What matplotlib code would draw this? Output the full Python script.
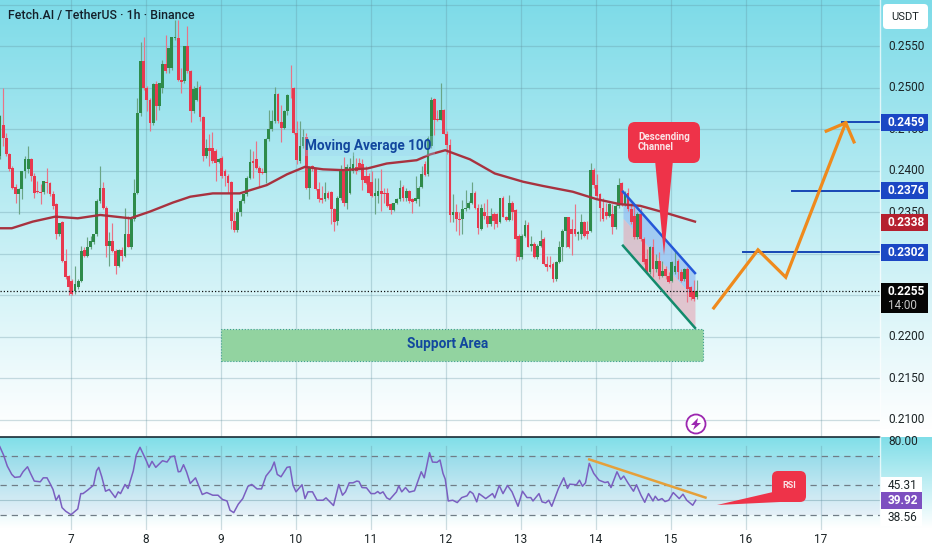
# ------------------------- Libraries -------------------------
import numpy as np
import matplotlib
matplotlib.use('Agg')
import matplotlib.pyplot as plt
from matplotlib.patches import Circle, FancyBboxPatch, Polygon, Rectangle

plt.rcParams['font.family'] = ['Roboto', 'DejaVu Sans']

# ------------------------- Data -------------------------
# FET/USDT hourly candles, prices in 1e-4 USDT
first_candle_day = 6.053
opens = [
    2418,2456,2440,2420,2404,2381,2372,2378,2400,2402, 2414,2394,2376,2375,2375,2387,2386,2372,2360,2324,
    2338,2292,2274,2268,2256,2260,2267,2305,2298,2308, 2314,2324,2364,2380,2356,2310,2316,2304,2286,2305,
    2297,2324,2309,2342,2374,2470,2532,2500,2486,2458, 2505,2478,2500,2529,2524,2524,2560,2560,2510,2508,
    2550,2520,2472,2486,2501,2465,2418,2428,2428,2424, 2411,2416,2400,2394,2387,2340,2329,2351,2364,2372,
    2392,2412,2414,2404,2399,2398,2438,2451,2460,2493, 2459,2452,2472,2492,2500,2446,2412,2430,2441,2380,
    2406,2403,2378,2367,2366,2374,2375,2354,2340,2367, 2402,2361,2373,2400,2405,2410,2408,2394,2394,2387,
    2370,2370,2376,2374,2373,2360,2353,2361,2366,2381, 2367,2376,2366,2364,2366,2381,2409,2396,2430,2487,
    2463,2462,2474,2445,2431,2347,2350,2342,2342,2354, 2356,2362,2374,2356,2330,2350,2346,2336,2348,2348,
    2338,2368,2345,2341,2362,2353,2322,2296,2322,2335, 2310,2312,2296,2310,2318,2288,2287,2288,2270,2290,
    2308,2328,2344,2330,2330,2324,2324,2338,2328,2328, 2401,2383,2372,2356,2350,2346,2348,2332,2358,2385,
    2360,2374,2354,2346,2320,2348,2318,2294,2278,2308, 2282,2292,2274,2282,2274,2268,2278,2292,2278,2270,
    2282,2260,2256,2248]
closes = [
    2466,2440,2420,2402,2380,2372,2378,2400,2414,2414, 2394,2374,2375,2374,2388,2385,2372,2358,2324,2337,
    2292,2272,2260,2252,2264,2268,2304,2298,2308,2316, 2324,2364,2380,2356,2310,2316,2304,2286,2305,2297,
    2324,2309,2342,2374,2470,2532,2500,2486,2458,2505, 2478,2506,2529,2520,2548,2561,2561,2510,2507,2550,
    2520,2472,2499,2500,2465,2418,2428,2424,2412,2410, 2415,2394,2394,2386,2340,2329,2351,2364,2372,2392,
    2411,2410,2404,2398,2398,2438,2451,2460,2493,2460, 2452,2472,2492,2491,2446,2413,2430,2441,2380,2404,
    2402,2378,2366,2365,2373,2368,2354,2338,2367,2402, 2361,2405,2405,2409,2400,2404,2389,2386,2374,2370,
    2374,2376,2372,2372,2358,2353,2361,2366,2380,2367, 2376,2364,2363,2367,2380,2396,2395,2440,2486,2462,
    2461,2474,2445,2431,2347,2350,2342,2341,2354,2356, 2362,2373,2356,2331,2355,2346,2336,2346,2340,2336,
    2367,2345,2341,2362,2351,2318,2296,2322,2335,2309, 2312,2296,2310,2316,2288,2284,2284,2270,2290,2308,
    2328,2344,2308,2324,2324,2326,2338,2322,2324,2401, 2383,2370,2356,2342,2346,2360,2332,2358,2383,2360,
    2374,2354,2338,2320,2348,2318,2290,2278,2308,2282, 2292,2274,2280,2274,2266,2290,2286,2278,2268,2282,
    2258,2248,2246,2256]
highs = [
    2468,2500,2446,2422,2406,2384,2380,2400,2418,2430, 2416,2398,2388,2384,2388,2404,2387,2376,2362,2337,
    2340,2306,2275,2270,2286,2270,2310,2308,2320,2322, 2324,2366,2406,2387,2358,2326,2337,2306,2306,2308,
    2355,2346,2344,2390,2488,2556,2561,2502,2488,2506, 2508,2506,2534,2564,2548,2561,2582,2582,2524,2550,
    2575,2522,2502,2508,2503,2466,2438,2444,2447,2426, 2416,2418,2402,2396,2388,2350,2356,2366,2374,2394,
    2426,2424,2436,2406,2404,2440,2474,2474,2501,2494, 2480,2474,2493,2528,2501,2460,2460,2450,2446,2406,
    2407,2404,2387,2382,2387,2376,2376,2356,2370,2407, 2417,2408,2416,2423,2416,2416,2414,2406,2398,2400,
    2392,2392,2402,2380,2380,2362,2362,2368,2389,2383, 2380,2377,2368,2394,2382,2406,2412,2442,2489,2488,
    2474,2506,2475,2448,2438,2372,2360,2350,2365,2377, 2364,2387,2376,2360,2360,2362,2366,2356,2350,2349,
    2368,2370,2346,2371,2364,2354,2324,2324,2341,2338, 2322,2314,2312,2329,2320,2298,2298,2290,2292,2316,
    2330,2345,2345,2342,2360,2328,2348,2340,2340,2410, 2403,2396,2374,2368,2362,2362,2360,2360,2391,2387,
    2376,2379,2362,2358,2350,2356,2320,2306,2310,2318, 2300,2302,2292,2286,2278,2292,2304,2294,2282,2283,
    2284,2262,2269,2269]
lows = [
    2414,2430,2418,2400,2378,2362,2348,2366,2392,2398, 2388,2368,2374,2360,2372,2374,2370,2354,2318,2322,
    2290,2270,2250,2250,2252,2258,2266,2296,2296,2306, 2312,2322,2362,2354,2296,2286,2302,2276,2284,2292,
    2296,2308,2306,2340,2372,2466,2498,2472,2448,2456, 2462,2474,2494,2518,2518,2522,2558,2508,2494,2506,
    2518,2459,2470,2484,2460,2412,2416,2406,2410,2388, 2410,2392,2382,2374,2330,2326,2326,2346,2362,2370,
    2390,2392,2402,2382,2396,2386,2436,2448,2458,2458, 2435,2450,2468,2488,2444,2408,2410,2428,2378,2366,
    2400,2377,2363,2362,2364,2366,2336,2328,2335,2365, 2358,2354,2372,2398,2396,2402,2377,2384,2373,2369,
    2348,2362,2352,2362,2357,2348,2352,2360,2364,2364, 2364,2362,2349,2362,2358,2380,2394,2394,2428,2443,
    2460,2462,2444,2420,2339,2338,2328,2323,2324,2352, 2354,2360,2354,2324,2329,2342,2333,2334,2330,2332,
    2337,2344,2340,2340,2341,2292,2293,2294,2321,2308, 2303,2295,2294,2308,2287,2280,2283,2266,2268,2289,
    2291,2308,2307,2299,2322,2317,2318,2320,2318,2327, 2380,2368,2340,2340,2342,2344,2324,2330,2356,2358,
    2358,2352,2336,2318,2318,2316,2288,2276,2276,2272, 2278,2270,2272,2270,2265,2266,2276,2270,2266,2268,
    2242,2244,2243,2246]

ma_days = [6.05,6.21,6.49,6.79,7.09,7.39,7.79,8.05,8.36,8.59,8.89,9.25,9.61,9.88,10.12,10.36,
           10.63,10.95,11.21,11.61,11.79,11.99,12.32,12.65,13.03,13.29,13.69,14.01,14.32,14.59,14.95,15.32]
ma_values = [2331,2331,2339,2345,2343,2347,2343,2351,2362,2369,2373,2373,2383,2396,2405,2402,
             2401,2403,2409,2413,2420,2425,2414,2397,2387,2382,2375,2366,2360,2358,2349,2339]

rsi_days = [6.05,6.10,6.15,6.21,6.25,6.32,6.36,6.42,6.46,6.51,6.59,6.63,6.68,6.72,6.76,6.80,6.84,6.88,6.93,7.00,
            7.09,7.13,7.16,7.22,7.30,7.34,7.37,7.41,7.46,7.51,7.59,7.63,7.66,7.72,7.76,7.83,7.87,7.92,8.00,8.04,
            8.08,8.13,8.22,8.28,8.33,8.38,8.43,8.46,8.50,8.54,8.59,8.66,8.75,8.81,8.89,8.96,9.02,9.08,9.12,9.17,
            9.23,9.29,9.36,9.41,9.48,9.54,9.60,9.67,9.71,9.75,9.80,9.88,9.92,9.96,10.00,10.08,10.12,10.16,10.22,10.28,
            10.36,10.40,10.50,10.57,10.62,10.66,10.71,10.76,10.81,10.84,10.88,10.94,11.00,11.05,11.09,11.12,11.16,11.21,11.25,11.34,
            11.37,11.41,11.46,11.51,11.58,11.67,11.71,11.78,11.82,11.88,11.92,11.96,11.99,12.03,12.09,12.15,12.21,12.28,
            12.32,12.36,12.41,12.44,12.53,12.62,12.65,12.71,12.76,12.82,12.88,12.96,13.02,13.08,13.13,13.16,13.24,13.28,13.33,13.37,
            13.41,13.50,13.57,13.62,13.65,13.74,13.78,13.82,13.86,13.91,13.97,14.04,14.12,14.16,14.20,14.28,14.33,14.37,14.43,14.50,
            14.54,14.60,14.65,14.70,14.76,14.79,14.83,14.88,14.92,14.97,15.03,15.11,15.16,15.21,15.29,15.33]
rsi_values = [76.4,70.7,63.2,57.5,55.5,55.9,59.3,62.7,58.2,53.0,52.5,55.2,55.2,51.4,47.3,40.0,43.4,35.0,32.5,30.2,
              34.1,44.5,44.5,46.8,50.2,60.0,62.3,55.9,46.1,47.3,41.8,45.7,44.5,50.7,48.0,59.8,70.7,75.9,67.3,62.3,
              66.4,62.3,66.8,65.9,69.5,70.0,59.3,59.5,64.1,59.3,51.4,55.2,43.9,45.2,43.4,43.4,40.5,39.5,33.2,31.6,
              37.3,41.1,49.5,50.7,47.7,47.7,56.4,60.9,65.9,57.5,55.9,62.3,62.7,50.2,45.7,50.5,41.1,45.7,45.7,40.0,
              40.0,41.6,36.4,50.7,43.4,45.7,51.8,51.8,53.0,52.7,48.6,48.4,44.5,44.5,45.9,44.5,45.7,41.6,40.5,45.7,
              49.8,45.7,48.6,45.5,46.4,59.3,55.2,72.3,65.9,65.7,67.3,58.2,54.3,39.5,40.0,38.4,41.8,43.0,
              46.0,44.5,38.9,44.5,41.1,44.5,41.6,50.0,44.5,50.0,45.7,35.9,46.1,41.8,41.8,39.5,44.5,38.9,38.2,40.0,
              35.9,48.0,55.2,48.0,50.9,50.5,53.6,49.5,51.8,65.0,58.2,53.6,52.0,52.5,48.6,59.3,54.1,56.4,51.4,46.1,
              50.5,43.4,38.6,44.5,39.5,42.7,40.0,41.1,39.1,40.0,45.2,41.1,44.1,40.0,36.6,40.0]

# drawings on the chart
target_levels = [0.2302, 0.2376, 0.2459]
target_starts = [15.96, 16.61, 17.28]
projection_days = [15.57, 16.16, 16.53, 17.33]
projection_prices = [0.2235, 0.2305, 0.2272, 0.2458]
head_days = [17.07, 17.33, 17.44]
head_prices = [0.2448, 0.2458, 0.2435]
channel_days = [14.36, 15.32]
channel_top = [0.2375, 0.2277]
channel_mid = [0.2343, 0.2245]
channel_bottom = [0.2310, 0.2211]
support_days = [9.0, 15.43]
support_prices = [0.2171, 0.2210]
rsi_trend_days = [13.91, 15.46]
rsi_trend_values = [67.7, 41.8]

price_ticks = [0.2100, 0.2150, 0.2200, 0.2250, 0.2300, 0.2350, 0.2400, 0.2450, 0.2500, 0.2550, 0.2600]
price_labels = [0.2100, 0.2150, 0.2200, 0.2350, 0.2400, 0.2450, 0.2500, 0.2550]
day_ticks = [7, 8, 9, 10, 11, 12, 13, 14, 15, 16, 17]
last_price = 0.2255
ma_last = 0.2338

# ------------------------- Constants -------------------------
W, H = 932, 550
PANE_R, MAIN_B, RSI_B = 880, 437, 530
TEAL = (125, 219, 232)
UP, DOWN = '#2e8b4a', '#e8394f'
UP_WICK, DOWN_WICK = '#6aa586', '#ea7386'
GRID = '#5f8f9c'
BLUE_LABEL = '#1b47c4'
ORANGE = '#ef8a1c'
CALLOUT = '#ee3349'
TEXT = '#1c2426'


def gradient(top, bottom, steps=256):
    ramp = np.linspace(0, 1, steps)[:, None, None]
    top = np.array(top)[None, None, :] / 255
    bottom = np.array(bottom)[None, None, :] / 255
    return top + (bottom - top) * ramp


fig = plt.figure(figsize=(W / 100, H / 100), dpi=100, facecolor='white')

# backdrop (pixel coordinates)
back = fig.add_axes([0, 0, 1, 1], zorder=0)
back.set_xlim(0, W)
back.set_ylim(H, 0)
back.axis('off')
back.imshow(gradient(TEAL, (255, 255, 255)), extent=[0, W, 430, 0], aspect='auto')
back.imshow(gradient((128, 222, 232), (255, 255, 255)), extent=[0, W, 528, MAIN_B], aspect='auto')
back.set_xlim(0, W)
back.set_ylim(H, 0)

# main pane
ax = fig.add_axes([0, 1 - MAIN_B / H, PANE_R / W, MAIN_B / H], zorder=2)
ax.patch.set_alpha(0)
ax.set_xlim(6.053, 17.787)
ax.set_ylim(0.20795, 0.26060)
for side in ax.spines.values():
    side.set_visible(False)
ax.set_xticks([])
ax.set_yticks([])
for p in price_ticks:
    ax.axhline(p, color=GRID, lw=0.9, alpha=0.3, zorder=1)
for d in day_ticks:
    ax.axvline(d, color=GRID, lw=0.9, alpha=0.3, zorder=1)

ax.axhline(last_price, color='#111111', lw=0.9, ls=(0, (1, 1.6)), zorder=5)

# support area
ax.add_patch(Rectangle((support_days[0], support_prices[0]), support_days[1] - support_days[0],
                       support_prices[1] - support_prices[0], facecolor='#92d3a0', edgecolor='#3f9f8f',
                       lw=0.8, ls=':', zorder=2))
ax.text(12.02, np.mean(support_prices) + 0.0001, 'Support Area', color='#12479e',
        fontsize=9.8, fontweight='bold', ha='center', va='center', zorder=6)

# channel fill goes under the candles
ax.fill_between(channel_days, channel_mid, channel_top, color='#8fb9f2', alpha=0.65, lw=0, zorder=2)
ax.fill_between(channel_days, channel_bottom, channel_mid, color='#e89fae', alpha=0.55, lw=0, zorder=2)

# candles
o = np.array(opens) / 10000
c = np.array(closes) / 10000
hi = np.array(highs) / 10000
lo = np.array(lows) / 10000
days = first_candle_day + np.arange(len(o)) / 24
rising = c >= o
wick_colors = np.where(rising, UP_WICK, DOWN_WICK)
body_colors = np.where(rising, UP, DOWN)
ax.vlines(days, lo, hi, colors=wick_colors, lw=0.85, zorder=3)
ax.bar(days, np.abs(c - o), bottom=np.minimum(o, c), width=0.037, color=body_colors, lw=0, zorder=4)

# moving average
ma = np.array(ma_values) / 10000
ax.plot(ma_days, ma, color='#a8323f', lw=1.7, zorder=5)
ax.text(10.96, 0.2430, 'Moving Average 100', color='#12479e', fontsize=9.8, fontweight='bold',
        ha='center', va='center', zorder=6,
        bbox=dict(boxstyle='square,pad=0.25', fc='#9fd4f0', ec='none', alpha=0.3))

# channel edges
ax.plot(channel_days, channel_top, color='#2458d8', lw=1.8, zorder=6)
ax.plot(channel_days, channel_bottom, color='#128a6c', lw=1.8, zorder=6)

# targets and projected path
for level, start in zip(target_levels, target_starts):
    ax.plot([start, ax.get_xlim()[1]], [level, level], color='#1747b5', lw=1.4, zorder=6)
ax.plot(projection_days, projection_prices, color=ORANGE, lw=2.3, solid_joinstyle='miter', zorder=7)
ax.plot(head_days, head_prices, color=ORANGE, lw=2.3, solid_joinstyle='miter', zorder=7)

# RSI pane
ax_rsi = fig.add_axes([0, 1 - RSI_B / H, PANE_R / W, (RSI_B - MAIN_B) / H], zorder=2)
ax_rsi.patch.set_alpha(0)
ax_rsi.set_xlim(ax.get_xlim())
ax_rsi.set_ylim(19.8, 82.9)
for side in ['left', 'right', 'bottom']:
    ax_rsi.spines[side].set_visible(False)
ax_rsi.spines['top'].set_color('#1b2c36')
ax_rsi.spines['top'].set_linewidth(1.2)
ax_rsi.set_yticks([])
ax_rsi.set_xticks(day_ticks)
ax_rsi.set_xticklabels([str(d) for d in day_ticks], fontsize=8.5, color=TEXT)
ax_rsi.tick_params(axis='x', length=0, pad=2.5)
for d in day_ticks:
    ax_rsi.axvline(d, ymax=0.9, color=GRID, lw=0.9, alpha=0.3, zorder=1)
ax_rsi.axhspan(30, 70, color='#7e57c2', alpha=0.06, lw=0, zorder=1)
ax_rsi.axhline(40, color=GRID, lw=0.8, alpha=0.4, zorder=1)
for level in [70, 50, 30]:
    ax_rsi.axhline(level, color='#6f7d86', lw=0.9, ls=(0, (5, 4)), zorder=2)
ax_rsi.plot(rsi_days, rsi_values, color='#7a5fc0', lw=1.1, zorder=4)
ax_rsi.plot(rsi_trend_days, rsi_trend_values, color='#e5a03a', lw=1.8, zorder=5)

# overlay for the price scale chrome and callouts (pixel coordinates)
top = fig.add_axes([0, 0, 1, 1], zorder=5)
top.patch.set_alpha(0)
top.set_xlim(0, W)
top.set_ylim(H, 0)
top.axis('off')


def price_y(price):
    # price to overlay pixel row, through the main axes scale
    _, y = ax.transData.transform((0, price))
    return H - y


def rsi_y(value):
    _, y = ax_rsi.transData.transform((0, value))
    return H - y


def chip(y, text, face, color='white', height=17, left=881, right=928):
    top.add_patch(Rectangle((left, y - height / 2), right - left, height, facecolor=face, edgecolor='none', zorder=3))
    top.text(888, y, text, color=color, fontsize=8.6, fontweight='bold' if face != 'white' else 'normal',
             va='center', ha='left', zorder=4)


top.plot([PANE_R, PANE_R], [0, RSI_B], color='white', lw=1, alpha=0.7)
top.text(8, 16, 'Fetch.AI / TetherUS · 1h · Binance', color='#14202a', fontsize=8.9, fontweight='medium',
         va='center', ha='left')

top.add_patch(FancyBboxPatch((886, 7), 39, 19, boxstyle='round,pad=3,rounding_size=4', fc='white', ec='none'))
top.text(905.5, 17, 'USDT', color=TEXT, fontsize=8, ha='center', va='center')

for p in price_labels:
    top.text(888, price_y(p), f'{p:.4f}', color=TEXT, fontsize=8.6, va='center', ha='left', zorder=2)
for level in target_levels:
    chip(price_y(level), f'{level:.4f}', BLUE_LABEL)
chip(price_y(ma_last), f'{ma_last:.4f}', '#b5202f')

# last price with countdown
y_last = price_y(last_price)
top.add_patch(Rectangle((881, y_last - 8), 47, 30, facecolor='#050505', edgecolor='none', zorder=3))
top.text(888, y_last, f'{last_price:.4f}', color='white', fontsize=8.6, fontweight='bold', va='center', zorder=4)
top.text(888, y_last + 14, '14:00', color='#c8c8c8', fontsize=8.4, va='center', zorder=4)

# RSI scale
top.text(888, rsi_y(80), '80.00', color=TEXT, fontsize=8.6, va='center', ha='left')
chip(rsi_y(50), '45.31', 'white', color=TEXT, right=922)
chip(rsi_y(39.92), '39.92', '#7d4fc0', right=922)
chip(rsi_y(28.6), '38.56', 'white', color=TEXT, right=922)

# descending channel callout
top.add_patch(FancyBboxPatch((634, 128), 60, 29, boxstyle='round,pad=6,rounding_size=7', fc=CALLOUT, ec='none'))
top.add_patch(Polygon([(655, 160), (673, 160), (664, 255)], closed=True, fc=CALLOUT, ec='none'))
top.text(638, 142, 'Descending\nChannel', color='#fbe3e6', fontsize=7, fontweight='bold', va='center', ha='left',
         linespacing=1.0)

# RSI callout
top.add_patch(FancyBboxPatch((777, 476), 24, 21, boxstyle='round,pad=5,rounding_size=6', fc=CALLOUT, ec='none'))
top.add_patch(Polygon([(773, 492), (780, 502), (717, 505)], closed=True, fc=CALLOUT, ec='none'))
top.text(789, 485, 'RSI', color='#fbe3e6', fontsize=6.5, fontweight='bold', va='center', ha='center')

# alert icon
top.add_patch(Circle((696, 424), 9.5, fc='white', ec='#9c27b0', lw=1.3))
top.add_patch(Polygon([(698, 418), (691, 425), (695, 425), (693, 430), (701, 423), (697, 423)], closed=True,
                      fc='#9c27b0', ec='none'))

fig.savefig('out.png', dpi=100)
